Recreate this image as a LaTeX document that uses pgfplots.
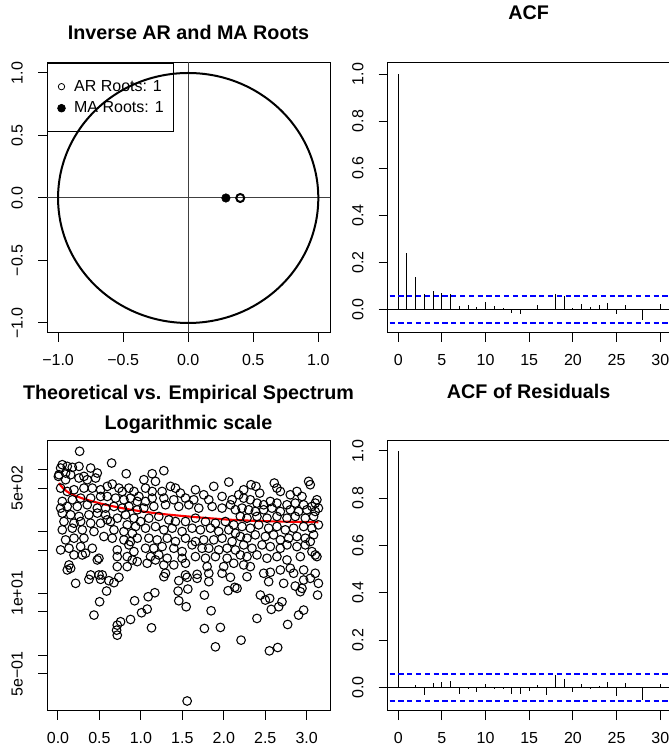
\documentclass[border=0pt]{standalone}
\usepackage{fontspec}
\setmainfont{Liberation Sans}
\usepackage{pgfplots}
\pgfplotsset{compat=1.18}
\usepackage{pgfplotstable}

% ACF of the series and of the residuals (lag, acf)
\pgfplotstableread{
lag acf
0 1.000
1 0.238
2 0.139
3 0.064
4 0.079
5 0.072
6 0.064
7 0.014
8 0.021
9 0.010
10 0.033
11 0.013
12 0.007
13 -0.017
14 -0.018
15 -0.004
16 0.021
17 -0.003
18 0.065
19 0.057
20 0.008
21 0.025
22 0.011
23 0.017
24 0.028
25 -0.020
26 0.017
27 0.002
28 -0.044
29 -0.002
30 0.023
}\acfdata

\pgfplotstableread{
lag acf
0 1.000
1 -0.004
2 0.008
3 -0.031
4 0.018
5 0.023
6 0.028
7 -0.027
8 -0.007
9 -0.020
10 0.016
11 -0.007
12 -0.006
13 -0.027
14 -0.027
15 -0.016
16 0.011
17 -0.031
18 0.054
19 0.037
20 -0.021
21 0.013
22 -0.007
23 0.004
24 0.024
25 -0.035
26 0.018
27 0.002
28 -0.055
29 0.003
30 0.016
}\resdata

% periodogram: frequency, log10(spectrum)
\pgfplotstableread{
x ly
0.261 3.300
0.647 3.110
0.823 2.937
0.052 3.083
0.032 3.029
0.112 3.056
0.173 3.040
0.253 3.056
0.394 3.029
0.474 2.948
0.012 2.921
0.005 2.894
0.092 2.948
0.153 2.921
0.253 2.867
0.313 2.894
0.353 2.840
0.454 2.867
0.092 2.840
0.032 2.704
0.112 2.650
0.193 2.677
0.313 2.704
0.414 2.704
0.514 2.677
0.594 2.732
0.655 2.769
0.735 2.704
0.775 2.650
0.855 2.704
0.916 2.650
0.976 2.569
0.875 2.542
0.956 2.488
0.795 2.515
0.695 2.542
0.594 2.569
0.514 2.569
0.394 2.542
0.273 2.542
0.173 2.515
0.052 2.488
0.032 2.380
0.112 2.407
0.233 2.407
0.353 2.434
0.474 2.380
0.574 2.380
0.675 2.407
0.775 2.380
0.855 2.407
0.956 2.353
0.052 2.299
0.153 2.272
0.253 2.245
0.373 2.272
0.474 2.299
0.574 2.272
0.635 2.163
0.715 2.217
0.815 2.272
0.916 2.217
0.996 2.163
0.072 2.163
0.193 2.136
0.273 2.163
0.394 2.136
0.514 2.136
0.594 2.190
0.835 2.109
0.936 2.082
0.052 2.028
0.173 2.055
0.293 2.028
0.434 2.001
0.675 2.028
0.795 2.001
0.896 1.974
0.092 1.866
0.193 1.893
0.313 1.893
0.554 1.920
0.655 1.893
0.795 1.866
0.875 1.839
0.956 1.893
0.032 1.703
0.133 1.730
0.273 1.757
0.333 1.649
0.414 1.730
0.715 1.703
0.855 1.785
0.916 1.676
0.193 1.622
0.293 1.622
0.474 1.541
0.494 1.568
0.715 1.595
0.835 1.595
0.896 1.541
0.956 1.514
0.133 1.460
0.153 1.406
0.112 1.379
0.715 1.433
0.835 1.433
0.394 1.298
0.494 1.298
0.534 1.298
0.213 1.162
0.373 1.227
0.514 1.227
0.614 1.205
0.675 1.173
0.735 1.259
0.586 1.037
0.502 0.864
0.434 0.648
0.715 0.485
0.755 0.540
0.707 0.404
0.715 0.323
0.875 0.577
0.924 0.880
1.008 0.686
1.277 2.986
1.136 2.937
1.036 2.840
1.176 2.813
1.056 2.704
1.136 2.650
1.357 2.732
1.417 2.704
1.477 2.623
1.256 2.650
1.658 2.677
1.758 2.596
1.879 2.732
2.060 2.802
1.979 2.569
2.100 2.515
1.819 2.515
1.638 2.515
1.538 2.542
1.397 2.515
1.277 2.542
1.136 2.542
1.056 2.488
1.036 2.380
1.156 2.407
1.297 2.434
1.457 2.407
1.578 2.434
1.698 2.380
1.859 2.407
1.979 2.380
2.080 2.434
2.140 2.353
1.096 2.217
1.216 2.245
1.337 2.190
1.417 2.163
1.538 2.163
1.658 2.217
1.779 2.163
1.899 2.136
2.019 2.163
2.120 2.109
1.056 2.055
1.176 2.082
1.277 2.028
1.377 2.055
1.497 2.001
1.618 2.055
1.718 2.028
1.839 2.055
1.939 2.001
2.060 2.028
2.140 1.974
1.096 1.893
1.196 1.866
1.317 1.893
1.417 1.839
1.538 1.893
1.658 1.839
1.758 1.866
1.879 1.866
1.979 1.893
2.100 1.839
1.056 1.730
1.156 1.730
1.256 1.757
1.397 1.730
1.497 1.676
1.618 1.785
1.738 1.730
1.819 1.730
1.939 1.703
2.040 1.730
2.140 1.703
1.116 1.595
1.216 1.622
1.317 1.568
1.497 1.568
1.658 1.595
1.779 1.568
1.899 1.595
2.040 1.568
1.076 1.487
1.176 1.541
1.277 1.460
1.397 1.460
1.538 1.487
1.799 1.433
1.999 1.433
2.120 1.487
1.297 1.325
1.538 1.298
1.678 1.308
1.819 1.325
1.979 1.325
1.277 1.270
1.457 1.205
1.558 1.259
1.678 1.243
1.819 1.189
2.080 1.259
1.088 0.945
1.168 1.010
1.449 1.037
1.566 1.070
1.457 0.880
1.546 0.783
1.766 0.972
1.076 0.745
1.847 0.718
2.052 1.043
2.132 1.097
1.128 0.442
1.766 0.431
1.959 0.448
1.899 0.134
1.558 -0.743
2.328 2.759
2.388 2.732
2.433 2.623
2.609 2.786
2.641 2.704
2.682 2.650
3.023 2.813
3.043 2.759
2.802 2.596
2.882 2.650
2.943 2.569
3.123 2.515
3.103 2.461
2.240 2.677
2.180 2.596
2.240 2.542
2.320 2.515
2.400 2.461
2.481 2.434
2.561 2.488
2.641 2.461
2.762 2.434
2.862 2.461
2.963 2.434
3.063 2.407
3.141 2.380
2.220 2.380
2.300 2.353
2.380 2.326
2.481 2.353
2.581 2.380
2.682 2.326
2.802 2.353
2.902 2.326
3.003 2.353
3.103 2.326
2.200 2.245
2.280 2.217
2.400 2.245
2.521 2.217
2.641 2.245
2.762 2.217
2.862 2.245
2.983 2.217
3.083 2.245
2.220 2.082
2.320 2.055
2.421 2.109
2.541 2.055
2.641 2.082
2.742 2.028
2.842 2.055
2.963 2.082
3.063 2.055
3.141 2.109
2.200 1.920
2.280 1.893
2.380 1.947
2.501 1.920
2.601 1.947
2.682 1.866
2.782 1.893
2.882 1.920
2.983 1.893
3.083 1.947
2.240 1.785
2.340 1.730
2.461 1.785
2.561 1.757
2.682 1.730
2.762 1.785
2.882 1.757
2.983 1.785
3.043 1.839
3.103 1.622
3.123 1.595
2.200 1.622
2.280 1.595
2.400 1.622
2.521 1.568
2.641 1.595
2.762 1.541
2.923 1.595
3.063 1.676
2.240 1.460
2.320 1.433
2.481 1.325
2.561 1.341
2.682 1.379
2.802 1.406
2.842 1.325
2.963 1.379
3.103 1.325
2.280 1.270
2.541 1.189
2.722 1.162
2.862 1.118
2.943 1.081
2.963 1.216
3.043 1.243
3.141 1.162
2.923 1.027
3.131 0.972
2.441 0.972
2.501 0.891
2.553 0.918
2.573 0.740
2.662 0.783
2.702 0.864
2.400 0.594
2.770 0.496
2.902 0.648
2.963 0.729
2.208 0.242
2.550 0.069
2.650 0.123
2.160 1.081
}\specdata

% theoretical spectrum, log10
\pgfplotstableread{
x ly
0.012 2.786
0.040 2.735
0.080 2.680
0.150 2.615
0.309 2.531
0.510 2.456
0.711 2.396
0.912 2.347
1.112 2.309
1.313 2.277
1.715 2.228
2.116 2.189
2.518 2.168
2.839 2.158
3.141 2.152
}\theodata

\pgfplotsset{
  rbase/.style={
    scale only axis, width=212.25pt, height=202.5pt,
    anchor=south west,
    axis line style={line width=0.75pt},
    tick align=outside, tick pos=left,
    major tick length=6.75pt,
    every tick/.style={black, line width=0.75pt},
    tick label style={font=\fontsize{12}{14}\selectfont, inner sep=0pt},
    xticklabel style={anchor=north},
    yticklabel style={rotate=90, anchor=south},
    xticklabel shift=9.4pt, yticklabel shift=11.25pt,
  },
  cilines/.style={blue, line width=1.2pt, dash pattern=on 4pt off 2.6pt},
}

\begin{document}
\begin{tikzpicture}
% Inverse roots
\begin{axis}[rbase, at={(35.25pt,316.5pt)},
  xmin=-1.085, xmax=1.09, ymin=-1.08, ymax=1.08,
  xtick={-1,-0.5,0,0.5,1}, xticklabels={−1.0,−0.5,0.0,0.5,1.0},
  ytick={-1,-0.5,0,0.5,1}, yticklabels={−1.0,−0.5,0.0,0.5,1.0},
  legend style={at={(0,1)}, anchor=north west, draw=black, line width=0.75pt, fill=none,
    inner xsep=7pt, inner ysep=12.5pt, row sep=6.4pt, column sep=6.7pt,
    font=\fontsize{12}{14}\selectfont, nodes={inner sep=0pt}},
  legend cell align=left,
  legend image code/.code={\path[draw=none, fill=none] (-3.5pt,0pt) rectangle (0pt,0.1pt); \draw[#1] plot coordinates {(0pt,0pt)};},
]
\addplot[black!75, line width=0.75pt, forget plot] coordinates {(-1.2,0) (1.2,0)};
\addplot[black!75, line width=0.75pt, forget plot] coordinates {(0,-1.2) (0,1.2)};
\draw[line width=1.5pt] (axis cs:0,0) ellipse [x radius=1, y radius=1];
\addplot[only marks, mark=o, mark size=3pt, line width=1.5pt, forget plot] coordinates {(0.4,0)};
\addplot[only marks, mark=*, mark size=3.2pt, forget plot] coordinates {(0.29,0)};
\addlegendimage{only marks, mark=o, mark size=2.4pt, line width=0.6pt}
\addlegendimage{only marks, mark=*, mark size=2.8pt}
\legend{AR Roots: 1, MA Roots: 1}
\end{axis}

% ACF
\begin{axis}[rbase, at={(290.8pt,316.5pt)},
  xmin=-1.2, xmax=31.2, ymin=-0.1, ymax=1.047,
  xtick={0,5,...,30}, xticklabels={0,5,10,15,20,25,30},
  ytick={0,0.2,0.4,0.6,0.8,1}, yticklabels={0.0,0.2,0.4,0.6,0.8,1.0},
]
\addplot[ycomb, black, line width=0.75pt] table[x=lag, y=acf] {\acfdata};
\addplot[black, line width=0.75pt] coordinates {(-2,0) (33,0)};
\addplot[cilines] coordinates {(-2,0.058) (33,0.058)};
\addplot[cilines] coordinates {(-2,-0.058) (33,-0.058)};
\end{axis}

% Spectrum
\begin{axis}[rbase, at={(35.25pt,33pt)},
  xmin=-0.1325, xmax=3.281, ymin=-0.905, ymax=3.467,
  xtick={0,0.5,...,3}, xticklabels={0.0,0.5,1.0,1.5,2.0,2.5,3.0},
  ytick={-0.30103,0,0.69897,1,1.69897,2,2.69897,3},
  yticklabels={5e−01,{},{},1e+01,{},{},5e+02,{}},
]
\addplot[only marks, mark=o, mark size=3.25pt, mark options={line width=0.8pt}] table[x=x, y=ly] {\specdata};
\addplot[red, line width=1.6pt, smooth] table[x=x, y=ly] {\theodata};
\end{axis}

% Residual ACF
\begin{axis}[rbase, at={(290.8pt,33pt)},
  xmin=-1.2, xmax=31.2, ymin=-0.1, ymax=1.042,
  xtick={0,5,...,30}, xticklabels={0,5,10,15,20,25,30},
  ytick={0,0.2,0.4,0.6,0.8,1}, yticklabels={0.0,0.2,0.4,0.6,0.8,1.0},
]
\addplot[ycomb, black, line width=0.75pt] table[x=lag, y=acf] {\resdata};
\addplot[black, line width=0.75pt] coordinates {(-2,0) (33,0)};
\addplot[cilines] coordinates {(-2,0.0565) (33,0.0565)};
\addplot[cilines] coordinates {(-2,-0.0575) (33,-0.0575)};
\end{axis}

\begin{scope}[every node/.style={anchor=base, inner sep=0pt, font=\bfseries\fontsize{14.8}{17}\selectfont}]
\node at (141.4pt,536.25pt) {Inverse AR and MA Roots};
\node at (396.5pt,551.25pt) {ACF};
\node at (141.4pt,266.25pt) {Theoretical vs. Empirical Spectrum};
\node at (141.4pt,243.75pt) {Logarithmic scale};
\node at (396.5pt,267pt) {ACF of Residuals};
\end{scope}

\pgfresetboundingbox
\useasboundingbox (0pt,0pt) rectangle (501pt,566.25pt);
\end{tikzpicture}
\end{document}
